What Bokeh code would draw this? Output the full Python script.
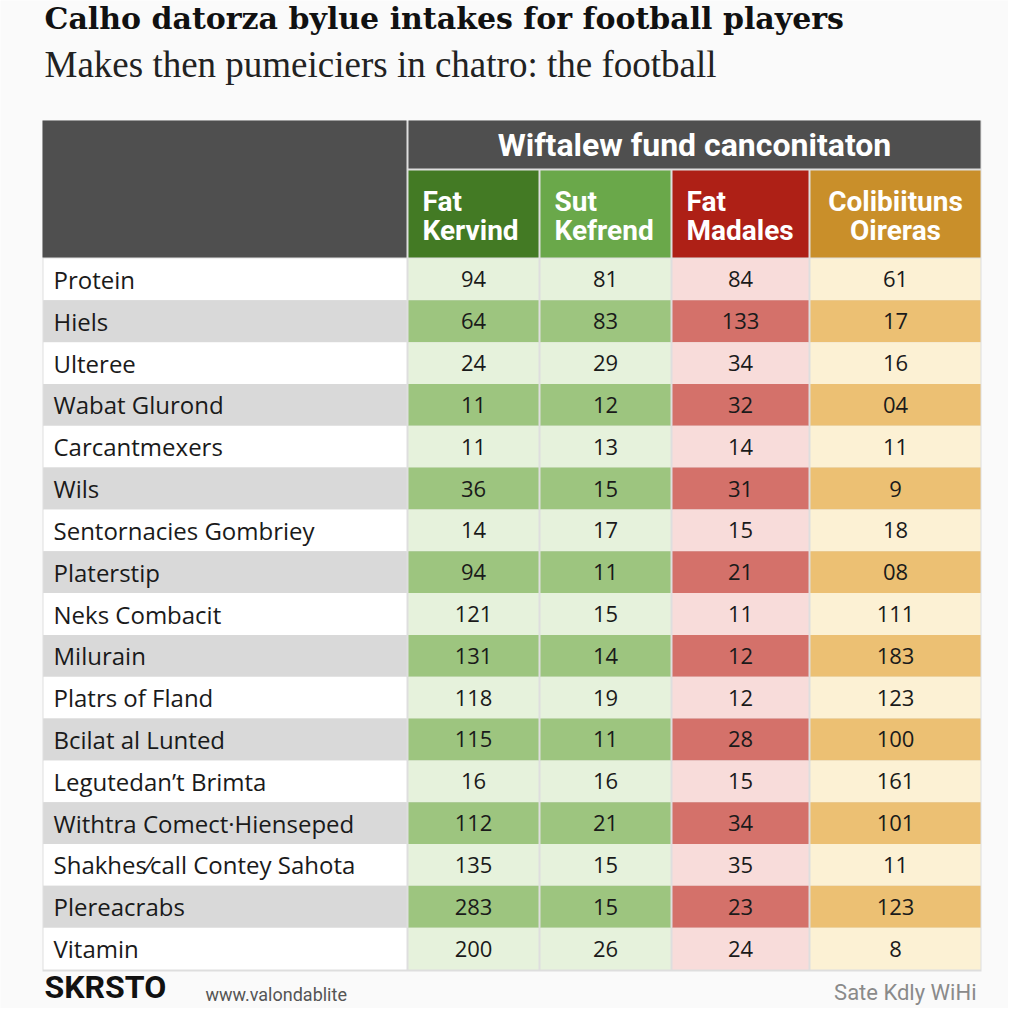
from bokeh.plotting import figure
from bokeh.models import Range1d
from bokeh.core.properties import value
from bokeh.embed import file_html
from bokeh.resources import INLINE

# ---------------- data ----------------
title = "Calho datorza bylue intakes for football players"
subtitle = "Makes then pumeiciers in chatro: the football"
group_title = "Wiftalew fund canconitaton"
col_line1 = ["Fat", "Sut", "Fat", "Colibiituns"]
col_line2 = ["Kervind", "Kefrend", "Madales", "Oireras"]
rows = ["Protein", "Hiels", "Ulteree", "Wabat Glurond", "Carcantmexers", "Wils",
        "Sentornacies Gombriey", "Platerstip", "Neks Combacit", "Milurain",
        "Platrs of Fland", "Bcilat al Lunted", "Legutedan\u2019t Brimta",
        "Withtra Comect\u00b7Hienseped", "Shakhes\u2044call Contey Sahota",
        "Plereacrabs", "Vitamin"]
fat_kervind = ["94", "64", "24", "11", "11", "36", "14", "94", "121", "131", "118", "115", "16", "112", "135", "283", "200"]
sut_kefrend = ["81", "83", "29", "12", "13", "15", "17", "11", "15", "14", "19", "11", "16", "21", "15", "15", "26"]
fat_madales = ["84", "133", "34", "32", "14", "31", "15", "21", "11", "12", "12", "28", "15", "34", "35", "23", "24"]
colib_oireras = ["61", "17", "16", "04", "11", "9", "18", "08", "111", "183", "123", "100", "161", "101", "11", "123", "8"]
footer_brand = "SKRSTO"
footer_url = "www.valondablite"
footer_right = "Sate Kdly WiHi"

# ---------------- styles / geometry ----------------
BG = "#fafafa"
HEAD_GREY = "#4f4f4f"
head_cols = ["#437a24", "#6aa84a", "#ae2016", "#c98f2a"]
light_cols = ["#e6f2dc", "#e6f2dc", "#f8dcda", "#fcf1d4"]
dark_cols = ["#9dc57f", "#9dc57f", "#d4716a", "#ecc073"]
col_left = [408, 540, 672, 810]
col_right = [538, 670, 808, 980]
label_l, label_r = 43, 406
tab_l, tab_r = 42, 981
head_top, group_bot, sub_top, head_bot = 120, 168, 170, 257
row_top0 = 258
row_h = (969 - 258) / len(rows)

p = figure(width=1008, height=1008, x_range=Range1d(0, 1008), y_range=Range1d(1008, 0),
           output_backend="svg", toolbar_location=None, min_border=0,
           background_fill_color=BG, border_fill_color=BG)
p.axis.visible = False
p.grid.visible = False
p.outline_line_color = None

# table frame
p.quad(left=[tab_l], right=[tab_r], top=[head_top], bottom=[971],
       fill_color="#dedede", line_color=None)

# header
p.quad(left=[tab_l], right=[label_r], top=[head_top], bottom=[head_bot],
       fill_color=HEAD_GREY, line_color=None)
p.quad(left=[col_left[0]], right=[tab_r - 1], top=[head_top], bottom=[group_bot],
       fill_color=HEAD_GREY, line_color=None)
p.quad(left=col_left, right=col_right, top=[sub_top] * 4, bottom=[head_bot] * 4,
       fill_color=head_cols, line_color=None)

p.text(x=[(col_left[0] + col_right[3]) / 2], y=[144], text=[group_title],
       text_font=value("Roboto"), text_font_style="bold", text_font_size="32px",
       text_color="white", text_align="center", text_baseline="middle")

for j in range(4):
    if j == 3:
        tx = (col_left[j] + col_right[j]) / 2
        align = "center"
    else:
        tx = col_left[j] + 14
        align = "left"
    p.text(x=[tx, tx], y=[201, 230], text=[col_line1[j], col_line2[j]],
           text_font=value("Roboto"), text_font_style="bold", text_font_size="28px",
           text_color="white", text_align=align, text_baseline="middle")

# body
n = len(rows)
tops = [row_top0 + i * row_h for i in range(n)]
bots = [t + row_h for t in tops]
mids = [t + row_h / 2 for t in tops]

p.quad(left=[label_l] * n, right=[label_r] * n, top=tops, bottom=bots,
       fill_color=["#ffffff" if i % 2 == 0 else "#d9d9d9" for i in range(n)], line_color=None)
p.text(x=[53] * n, y=mids, text=rows,
       text_font=value("Open Sans"), text_font_size="24px", text_color="#1a1a1a",
       text_align="left", text_baseline="middle")

series = [fat_kervind, sut_kefrend, fat_madales, colib_oireras]
for j, vals in enumerate(series):
    p.quad(left=[col_left[j]] * n, right=[col_right[j]] * n, top=tops, bottom=bots,
           fill_color=[light_cols[j] if i % 2 == 0 else dark_cols[j] for i in range(n)],
           line_color=None)
    cx = (col_left[j] + col_right[j]) / 2
    p.text(x=[cx] * n, y=mids, text=vals,
           text_font=value("Open Sans"), text_font_size="22px", text_color="#1a1a1a",
           text_align="center", text_baseline="middle")

# titles
p.text(x=[44], y=[18], text=[title], text_font=value("DejaVu Serif"),
       text_font_style="bold", text_font_size="30px", text_color="#111111",
       text_align="left", text_baseline="middle")
p.text(x=[44], y=[64], text=[subtitle], text_font=value("Liberation Serif"),
       text_font_size="37px", text_color="#222222",
       text_align="left", text_baseline="middle")

# footer
p.text(x=[44], y=[986], text=[footer_brand], text_font=value("Roboto"),
       text_font_style="bold", text_font_size="32px", text_color="#111111",
       text_align="left", text_baseline="middle")
p.text(x=[205], y=[994], text=[footer_url], text_font=value("Roboto"),
       text_font_size="18px", text_color="#555555",
       text_align="left", text_baseline="middle")
p.text(x=[976], y=[992], text=[footer_right], text_font=value("Roboto"),
       text_font_size="22px", text_color="#8a8a8a",
       text_align="right", text_baseline="middle")

open("out.html", "w").write(file_html(p, INLINE))
